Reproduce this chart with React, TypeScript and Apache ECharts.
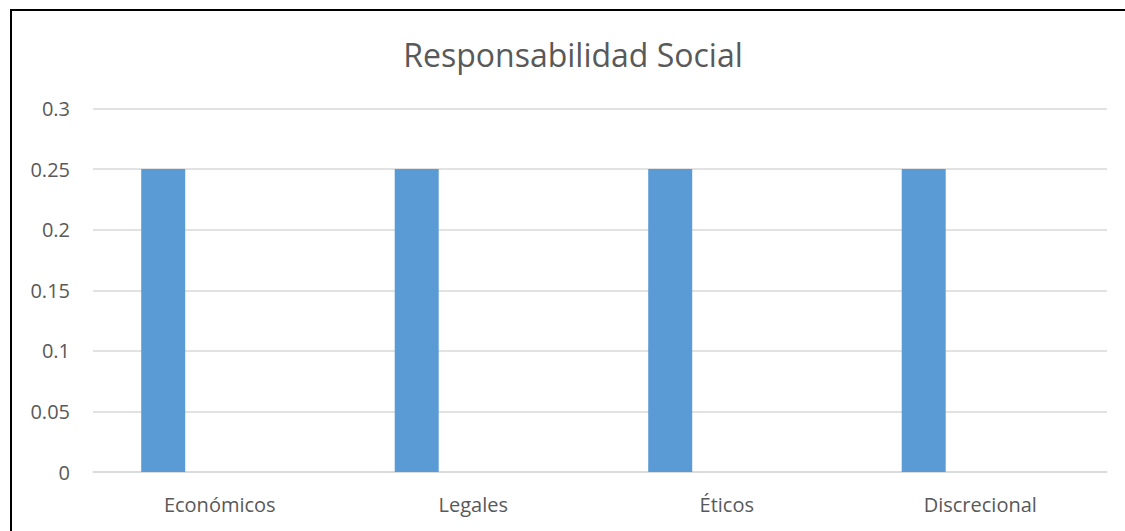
import React, { useEffect, useRef } from "react";
import * as echarts from "echarts";

const categories = ["Económicos", "Legales", "Éticos", "Discrecional"];
const serie1 = [0.25, 0.25, 0.25, 0.25];
const serie2: (number | null)[] = [null, null, null, null];
const yTicks = { min: 0, max: 0.3, interval: 0.05 };
const titleText = "Responsabilidad Social";

export default function App() {
  const ref = useRef<HTMLDivElement>(null);
  useEffect(() => {
    if (!ref.current) return;
    const chart = echarts.init(ref.current, undefined, { renderer: "svg" });
    chart.setOption({
      animation: false,
      title: {
        text: titleText,
        left: 568,
        top: 33,
        textAlign: "center",
        textStyle: {
          fontFamily: "Open Sans",
          fontWeight: 400,
          fontSize: 32,
          color: "#595959",
        },
      },
      grid: { left: 93, right: 18, top: 108.5, bottom: 59 },
      xAxis: {
        type: "category",
        data: categories,
        axisLine: { show: true, lineStyle: { color: "#D9D9D9", width: 1.5 } },
        axisTick: { show: false },
        axisLabel: {
          color: "#595959",
          fontFamily: "Open Sans",
          fontSize: 20,
          margin: 22,
        },
      },
      yAxis: {
        type: "value",
        min: yTicks.min,
        max: yTicks.max,
        interval: yTicks.interval,
        axisLine: { show: false },
        axisTick: { show: false },
        splitLine: { lineStyle: { color: "#D9D9D9", width: 1.5 } },
        axisLabel: {
          color: "#595959",
          fontFamily: "Open Sans",
          fontSize: 20,
          margin: 23,
          formatter: (v: number) => String(parseFloat(v.toFixed(2))),
        },
      },
      series: [
        {
          type: "bar",
          name: "Serie 1",
          data: serie1,
          barWidth: 44,
          barGap: "157%",
          itemStyle: { color: "#5B9BD5" },
        },
        {
          type: "bar",
          name: "Serie 2",
          data: serie2,
          barWidth: 44,
          itemStyle: { color: "#ED7D31" },
        },
      ],
    });
    return () => chart.dispose();
  }, []);
  return (
    <div
      style={{
        position: "fixed",
        left: 0,
        top: 0,
        width: 1125,
        height: 531,
        overflow: "hidden",
        background: "#ffffff",
      }}
    >
      <div
        style={{
          position: "absolute",
          left: 10,
          top: 9,
          width: 1300,
          height: 700,
          border: "2px solid #000000",
        }}
      />
      <div
        ref={ref}
        style={{ position: "absolute", left: 0, top: 0, width: 1125, height: 531 }}
      />
    </div>
  );
}
